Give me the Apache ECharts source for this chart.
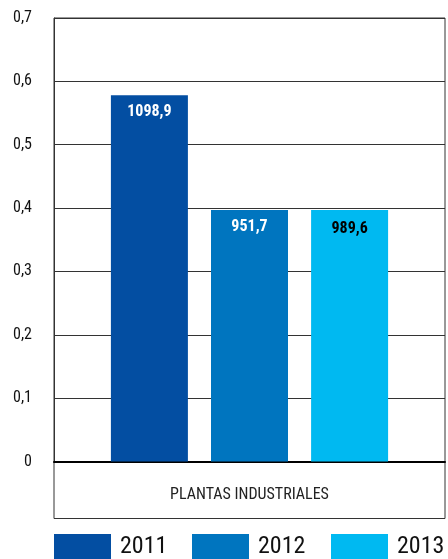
<!DOCTYPE html>
<html>
<head>
<meta charset="utf-8">
<script src="https://cdn.jsdelivr.net/npm/echarts@6/dist/echarts.min.js"></script>
<style>html,body{margin:0;padding:0;background:#fff}#c{width:448px;height:559px}</style>
</head>
<body>
<div id="c"></div>
<script>
const categories = ['PLANTAS INDUSTRIALES'];
const seriesNames = ['2011', '2012', '2013'];
const values2011 = [0.578];
const values2012 = [0.397];
const values2013 = [0.397];
const labels = ['1098,9', '951,7', '989,6'];
const colors = ['#034EA2', '#0075BF', '#00B9F1'];
const labelColors = ['#ffffff', '#ffffff', '#000000'];
const legendLefts = [54, 192, 331];
const yMin = 0, yMax = 0.7, yStep = 0.1;

const FONT = "'Roboto Condensed', 'Liberation Sans Narrow', Roboto, sans-serif";
const chart = echarts.init(document.getElementById('c'), null, {renderer: 'canvas'});
const allValues = [values2011, values2012, values2013];

chart.setOption({
  animation: false,
  grid: [
    {left: 54, right: 3, top: 18, bottom: 97.5, show: true, borderColor: '#333', borderWidth: 1},
    {left: 54, right: 3, top: 461.5, height: 57, show: true, borderColor: '#333', borderWidth: 1}
  ],
  legend: seriesNames.map((name, i) => ({
    data: [name],
    left: legendLefts[i], top: 534, padding: 0,
    itemWidth: 57, itemHeight: 26,
    icon: 'rect',
    textStyle: {fontFamily: FONT, fontSize: 24, color: '#111', padding: [2, 0, 0, 4]}
  })),
  xAxis: [
    {
      type: 'category', data: categories, gridIndex: 0,
      axisLine: {show: true, lineStyle: {color: '#000', width: 2}},
      axisTick: {show: false},
      axisLabel: {margin: 25, fontFamily: FONT, fontSize: 16, color: '#222'}
    },
    {type: 'category', gridIndex: 1, show: false, data: categories}
  ],
  yAxis: [
    {
      type: 'value', gridIndex: 0, min: yMin, max: yMax, interval: yStep,
      axisLine: {show: true, lineStyle: {color: '#333', width: 1}},
      axisTick: {show: false},
      splitLine: {lineStyle: {color: '#333', width: 1}},
      axisLabel: {
        margin: 22, fontFamily: FONT, fontSize: 16, color: '#111',
        formatter: v => String(Math.round(v * 10) / 10).replace('.', ',')
      }
    },
    {type: 'value', gridIndex: 1, show: false}
  ],
  series: seriesNames.map((name, i) => ({
    name, type: 'bar', data: allValues[i],
    xAxisIndex: 0, yAxisIndex: 0,
    barWidth: 77, barGap: '30%',
    itemStyle: {color: colors[i]},
    label: {
      show: true, position: 'insideTop', distance: i === 2 ? 11 : 9,
      formatter: () => labels[i],
      fontFamily: FONT, fontSize: 16, fontWeight: 'bold', color: labelColors[i]
    }
  }))
});
</script>
</body>
</html>
